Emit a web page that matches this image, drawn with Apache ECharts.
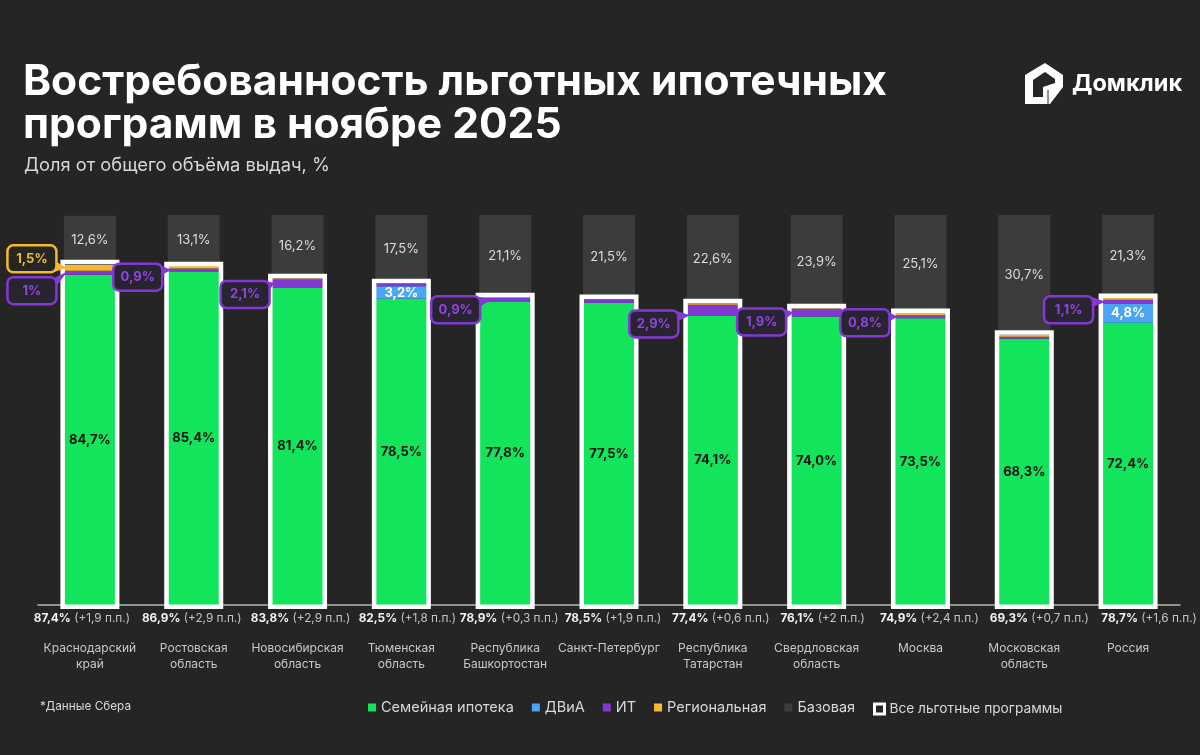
<!DOCTYPE html>
<html>
<head>
<meta charset="utf-8">
<title>Востребованность льготных ипотечных программ</title>
<script src="https://cdn.jsdelivr.net/npm/echarts@6/dist/echarts.min.js"></script>
<style>
html, body { margin: 0; padding: 0; background: #252525; }
#charts { width: 1200px; height: 755px; }
</style>
</head>
<body>
<div id="charts"></div>
<script>
var categories = ['Краснодарский\nкрай', 'Ростовская\nобласть', 'Новосибирская\nобласть', 'Тюменская\nобласть', 'Республика\nБашкортостан', 'Санкт-Петербург', 'Республика\nТатарстан', 'Свердловская\nобласть', 'Москва', 'Московская\nобласть', 'Россия'];
var family   = [84.7, 85.4, 81.4, 78.5, 77.8, 77.5, 74.1, 74.0, 73.5, 68.3, 72.4];
var dvia     = [0, 0, 0, 3.2, 0, 0, 0, 0, 0, 0, 4.8];
var it       = [1.0, 0.9, 2.1, 0.8, 0.9, 0.9, 2.9, 1.9, 0.8, 0.5, 1.1];
var regional = [1.5, 0.6, 0.3, 0, 0.2, 0.1, 0.4, 0.2, 0.6, 0.5, 0.4];
var base     = [12.6, 13.1, 16.2, 17.5, 21.1, 21.5, 22.6, 23.9, 25.1, 30.7, 21.3];
var totals   = [87.4, 86.9, 83.8, 82.5, 78.9, 78.5, 77.4, 76.1, 74.9, 69.3, 78.7];
var deltas   = ['+1,9', '+2,9', '+2,9', '+1,8', '+0,3', '+1,9', '+0,6', '+2', '+2,4', '+0,7', '+1,6'];

// подписи-выноски: категория и текст
var calloutCats  = [0, 0, 1, 2, 4, 6, 7, 8, 10];
var calloutTexts = ['1,5%', '1%', '0,9%', '2,1%', '0,9%', '2,9%', '1,9%', '0,8%', '1,1%'];
var calloutIsReg = [true, false, false, false, false, false, false, false, false];

var FONT = 'Inter, "Noto Sans", sans-serif';
var GREEN = '#12e45c', BLUE = '#4aa5f5', PURPLE = '#8338d6', YELLOW = '#f5b82e', GRAY = '#3c3c3c', BG = '#252525';

function fmt(v) {
    return v.toFixed(1).replace('.', ',') + '%';
}

// смещение центра выноски от точки на сегменте, заход острия внутрь столбика и сдвиг острия вниз, px
var calloutOffsets = [[-32, -9, 0, 0], [-32, 18, 0, 0], [-30, 7, 0, 0], [-26.5, 11, 0, 0], [-32.5, 10, 9, 0], [-33, 8.6, 0, 5], [-29, 9.3, 0, 0], [-29.5, 6, 0, 0], [-33.5, 8, 0, 0]];
// строка итогов под осью в оригинале сдвинута вправо от центра столбика, px
var totalRowShift = [-8, -2, 3, 6, 4, 4, 8, 6, 9, 15, 21];

function calloutLevel(i) {
    var c = calloutCats[i];
    var low = family[c] + dvia[c];
    if (calloutIsReg[i]) {
        return low + it[c] + regional[c] / 2;
    }
    return low + it[c] / 2;
}

function renderCallout(params, api) {
    var i = api.value(2);
    var p = api.coord([api.value(0), api.value(1)]);
    var color = calloutIsReg[i] ? YELLOW : PURPLE;
    var off = calloutOffsets[i];
    var tipX = p[0] - 24 + off[2];
    var tipY = p[1] + off[3];
    var w = 49, h = 27;
    var cx = tipX + off[0] - 2;
    var cy = tipY + off[1];
    var right = cx + w / 2;
    var py = Math.max(cy - h / 2 + 6, Math.min(cy + h / 2 - 6, tipY));
    return {
        type: 'group',
        children: [{
            type: 'polygon',
            shape: { points: [[right - 2, py - 5], [tipX, tipY], [right - 2, py + 5]] },
            style: { fill: color, stroke: color, lineWidth: 1 }
        }, {
            type: 'rect',
            shape: { x: cx - w / 2, y: cy - h / 2, width: w, height: h, r: 6 },
            style: { fill: calloutIsReg[i] ? '#262522' : '#282430', stroke: color, lineWidth: 2.5 }
        }, {
            type: 'text',
            style: { text: calloutTexts[i], x: cx, y: cy, align: 'center', verticalAlign: 'middle', fill: calloutIsReg[i] ? YELLOW : '#8f45e0', font: '700 13px ' + FONT }
        }]
    };
}

// белая рамка лежит снаружи столбика
function renderFrame(params, api) {
    var top = api.coord([api.value(0), api.value(1)]);
    var bottom = api.coord([api.value(0), 0]);
    return {
        type: 'rect',
        shape: { x: top[0] - 27.25, y: top[1] - 2.2, width: 54.5, height: bottom[1] - top[1] + 4 },
        style: { fill: 'rgba(0,0,0,0)', stroke: '#fff', lineWidth: 4.5 }
    };
}

function renderTotalRow(params, api) {
    var i = params.dataIndex;
    var p = api.coord([api.value(0), 0]);
    return {
        type: 'text',
        style: {
            text: '{t|' + fmt(totals[i]) + '} {d|(' + deltas[i] + ' п.п.)}',
            x: p[0] + totalRowShift[i], y: p[1] + 13, align: 'center', verticalAlign: 'middle',
            rich: {
                t: { fill: '#f2f2f2', font: '700 11.8px ' + FONT },
                d: { fill: '#c4c4c4', font: '400 11.8px ' + FONT }
            }
        }
    };
}

function stackBar(name, values, color, label) {
    return {
        name: name, type: 'bar', stack: 'all', barWidth: 52, data: values,
        itemStyle: { color: color },
        label: label || { show: false }
    };
}

var calloutData = [];
for (var k = 0; k < calloutCats.length; k++) {
    calloutData.push([calloutCats[k], calloutLevel(k), k]);
}
var frameData = totals.map(function (v, idx) { return [idx, v]; });

var option = {
    backgroundColor: BG,
    animation: false,
    textStyle: { fontFamily: FONT },
    title: [
        { text: 'Востребованность льготных ипотечных\nпрограмм в ноябре 2025', left: 23, top: 61, padding: 0, textStyle: { color: '#fff', fontFamily: FONT, fontSize: 42.5, fontWeight: 700, lineHeight: 43 } },
        { text: 'Доля от общего объёма выдач, %', left: 24, top: 157, padding: 0, textStyle: { color: '#d8d8d8', fontFamily: FONT, fontSize: 18.3, fontWeight: 400 } },
        { text: '*Данные Сбера', left: 40, top: 700, padding: 0, textStyle: { color: '#d8d8d8', fontFamily: FONT, fontSize: 11.8, fontWeight: 400 } }
    ],
    legend: [{
        left: 363, top: 695, icon: 'rect', itemWidth: 8, itemHeight: 8, itemGap: 18, selectedMode: false,
        textStyle: { color: '#d8d8d8', fontSize: 14.5, fontFamily: FONT },
        data: ['Семейная ипотека', 'ДВиА', 'ИТ', 'Региональная', 'Базовая']
    }, {
        left: 868, top: 697, icon: 'rect', itemWidth: 10, itemHeight: 10, selectedMode: false,
        textStyle: { color: '#d8d8d8', fontSize: 13.7, fontFamily: FONT },
        data: [{ name: 'Все льготные программы', itemStyle: { color: 'rgba(0,0,0,0)', borderColor: '#fff', borderWidth: 3 } }]
    }],
    grid: { left: 38, right: 20, top: 215, bottom: 150, containLabel: false },
    xAxis: {
        type: 'category', data: categories,
        axisLine: { lineStyle: { color: '#b5b5b5', width: 1.5 } },
        axisTick: { show: false },
        axisLabel: { interval: 0, margin: 35, color: '#c8c8c8', fontSize: 12, lineHeight: 16, fontFamily: FONT }
    },
    yAxis: { type: 'value', min: 0, max: 100, show: false },
    series: [
        stackBar('Семейная ипотека', family, GREEN, {
            show: true, position: 'inside', color: '#111', fontWeight: 700, fontSize: 13, fontFamily: FONT,
            formatter: function (p) { return fmt(p.value); }
        }),
        stackBar('ДВиА', dvia, BLUE, {
            show: true, position: 'inside', color: '#fff', fontWeight: 700, fontSize: 13, fontFamily: FONT,
            formatter: function (p) { return p.value > 0 ? fmt(p.value) : ''; }
        }),
        stackBar('ИТ', it, PURPLE),
        stackBar('Региональная', regional, YELLOW),
        stackBar('Базовая', base, GRAY, {
            show: true, position: 'inside', color: '#dcdcdc', fontSize: 13, fontFamily: FONT,
            formatter: function (p) { return fmt(p.value); }
        }),
        {
            name: 'Все льготные программы', type: 'custom', z: 5, clip: false, data: frameData, renderItem: renderFrame,
            encode: { x: 0, y: 1 }, silent: true,
            itemStyle: { color: 'rgba(0,0,0,0)', borderColor: '#fff', borderWidth: 3 }
        },
        {
            name: 'totalRow', type: 'custom', z: 6, clip: false, data: frameData, renderItem: renderTotalRow,
            encode: { x: 0, y: 1 }, silent: true
        },
        {
            name: 'callouts', type: 'custom', z: 10, clip: false, data: calloutData, renderItem: renderCallout,
            encode: { x: 0, y: 1 }, silent: true
        }
    ],
    graphic: [
        { type: 'polygon', shape: { points: [[1045, 63], [1063, 75], [1063, 87], [1050, 104], [1025, 104], [1025, 75]] }, style: { fill: '#fff' } },
        { type: 'polygon', shape: { points: [[1033, 80], [1045, 72], [1055, 79], [1055, 83], [1043, 87], [1043, 97], [1033, 97]] }, style: { fill: BG } },
        { type: 'polyline', shape: { points: [[1048, 90], [1048, 104]] }, style: { stroke: BG, lineWidth: 1, fill: null } },
        { type: 'text', left: 1072, top: 72, style: { text: 'Домклик', fill: '#fff', font: '700 23.5px ' + FONT } }
    ]
};

var chart = echarts.init(document.getElementById('charts'));
chart.setOption(option);
</script>
</body>
</html>
